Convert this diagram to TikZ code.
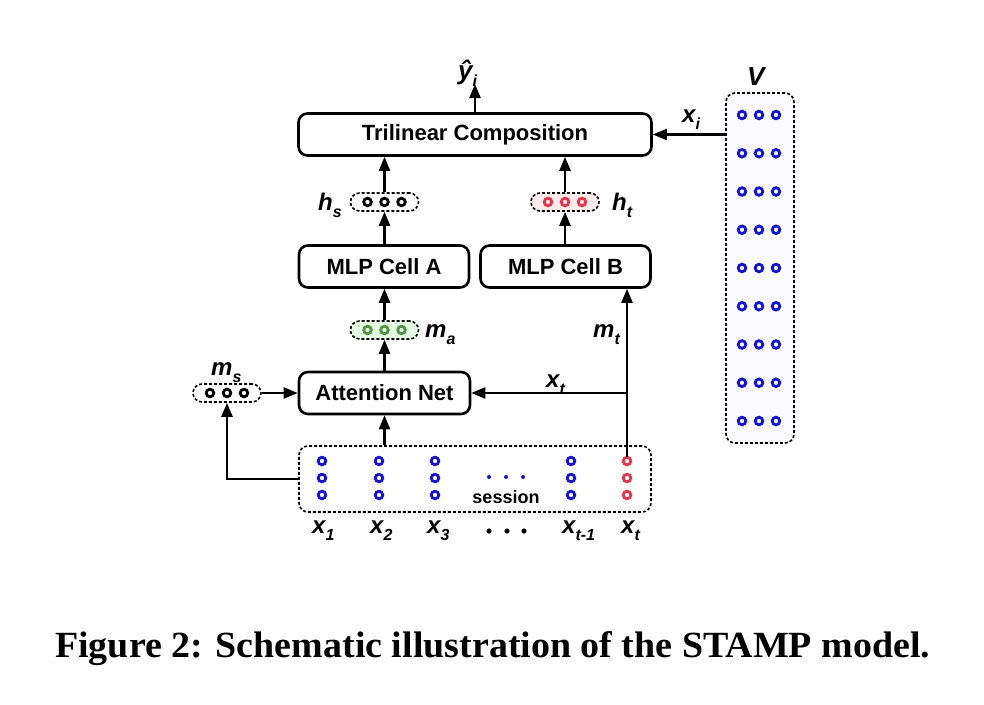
\documentclass[tikz,border=0pt]{standalone}
\usepackage{fontspec}
\setmainfont{Liberation Serif}
\setsansfont{Liberation Sans}
\usetikzlibrary{arrows.meta,calc}
\definecolor{cblue}{RGB}{20,20,205}
\definecolor{cred}{RGB}{225,55,75}
\definecolor{cgreen}{RGB}{85,145,70}
\newcommand\lbl[3][24]{{\fontsize{#1}{#1}\selectfont\sffamily\bfseries\itshape #2}\raisebox{-7pt}{\fontsize{16}{16}\selectfont\sffamily\bfseries\itshape #3}}
\begin{document}
\begin{tikzpicture}[x=1pt,y=-1pt,
  box/.style={draw, line width=2.6pt, rounded corners=9pt, inner sep=0pt,
    font=\fontsize{22}{22}\selectfont\sffamily\bfseries},
  dbox/.style={draw, line width=1.6pt, dash pattern=on 3pt off 2pt, rounded corners=9pt, inner sep=0pt},
  oval/.style={draw, line width=1.6pt, dash pattern=on 3pt off 2pt, rounded corners=9pt,
    minimum width=68pt, minimum height=18pt, inner sep=0pt},
  arr/.style={line width=2.2pt, -{Triangle[length=14pt,width=11pt]}},
  ring/.style={line width=2.8pt},
  lab/.style={inner sep=0pt, anchor=base west}]
\fill[white] (0,0) rectangle (984,704);
\useasboundingbox (0,0) rectangle (984,704);

% main boxes
\node[box, minimum width=353pt, minimum height=42pt] (tri) at (475,134.5) {Trilinear Composition};
\node[box, minimum width=170pt, minimum height=42pt] (mlpa) at (384,266.5) {MLP Cell A};
\node[box, minimum width=170pt, minimum height=42pt] (mlpb) at (565.5,266.5) {MLP Cell B};
\node[box, minimum width=171pt, minimum height=42pt] (att) at (384.5,393) {Attention Net};
\node[dbox, minimum width=352pt, minimum height=66pt] (sess) at (475,479) {};
\node[dbox, fill=blue!2, minimum width=68pt, minimum height=350pt] (V) at (760,268) {};

% ovals
\node[oval] (hs) at (384.5,202) {};
\node[oval, fill=red!8] (ht) at (565,202) {};
\node[oval, fill=green!10] (ma) at (384.5,330) {};
\node[oval] (ms) at (227,393) {};

% rings in ovals
\foreach \dx in {-17,0,17} {
  \draw[ring] ($(hs.center)+(\dx,0)$) circle (3.8pt);
  \draw[ring, cred] ($(ht.center)+(\dx,0)$) circle (3.8pt);
  \draw[ring, cgreen] ($(ma.center)+(\dx,0)$) circle (3.8pt);
  \draw[ring] ($(ms.center)+(\dx,0)$) circle (3.8pt);
}
% V rings
\foreach \r in {0,...,8} {
  \foreach \cx in {742,759,776} {
    \draw[ring, cblue] (\cx,{115+38.25*\r}) circle (3.8pt);
  }
}
% session rings
\foreach \cx in {322,379,435,571} {
  \foreach \ry in {461,478,495} {
    \draw[ring, cblue] (\cx,\ry) circle (3.8pt);
  }
}
\foreach \ry in {461,478,495} {
  \draw[ring, cred] (627,\ry) circle (3.8pt);
}
\foreach \cx in {489,506,523} { \fill[cblue] (\cx,477) circle (2pt); }
\node[inner sep=0pt, anchor=base, font=\fontsize{18}{18}\selectfont\sffamily\bfseries] (sesslbl) at (506,503) {session};

% connectors
\coordinate (yt) at (475,84);
\draw[arr] (tri.north -| yt) -- (yt);
\draw[arr] (V.west |- tri.east) -- (tri.east);
\draw[arr] (hs.north) -- (hs.north |- tri.south);
\draw[arr] (ht.north) -- (ht.north |- tri.south);
\draw[arr] (mlpa.north -| hs.south) -- (hs.south);
\draw[arr] (mlpb.north -| ht.south) -- (ht.south);
\draw[arr] (ma.north) -- (ma.north |- mlpa.south);
\draw[arr] (att.north -| ma.south) -- (ma.south);
\draw[arr] (att.south |- sess.north) -- (att.south);
\draw[arr] (ms.east) -- (att.west);
\draw[arr] (sess.west) -| (ms.south);
\coordinate (xt) at (627,457);
\draw[arr] (xt) -- (xt |- mlpb.south);
\draw[arr] (xt |- att.east) -- (att.east);

% labels
\node[lab] (lyhat) at (458,79) {\lbl[26]{ŷ}{i}};
\node[lab] (lxi) at (682,122) {\lbl{x}{i}};
\node[lab] (lV) at (747,85) {\lbl[26]{V}{}};
\node[lab] (lhs) at (318,210) {\lbl{h}{s}};
\node[lab] (lht) at (612,210) {\lbl{h}{t}};
\node[lab] (lma) at (425,337) {\lbl{m}{a}};
\node[lab] (lmt) at (593,337) {\lbl{m}{t}};
\node[lab] (lms) at (211,375) {\lbl{m}{s}};
\node[lab] (lxt) at (546,387) {\lbl{x}{t}};
\node[lab] (lx1) at (312,533) {\lbl{x}{1}};
\node[lab] (lx2) at (370,533) {\lbl{x}{2}};
\node[lab] (lx3) at (427,533) {\lbl{x}{3}};
\node[lab] (lxt1) at (562,533) {\lbl{x}{t-1}};
\node[lab] (lxtt) at (621,533) {\lbl{x}{t}};
\foreach \cx in {489,507,524} { \fill (\cx,531) circle (2.6pt); }

% caption
\node[lab] (cap) at (55,657) {\resizebox{875pt}{26pt}{\bfseries Figure 2: Schematic illustration of the STAMP model.}};
\end{tikzpicture}
\end{document}
